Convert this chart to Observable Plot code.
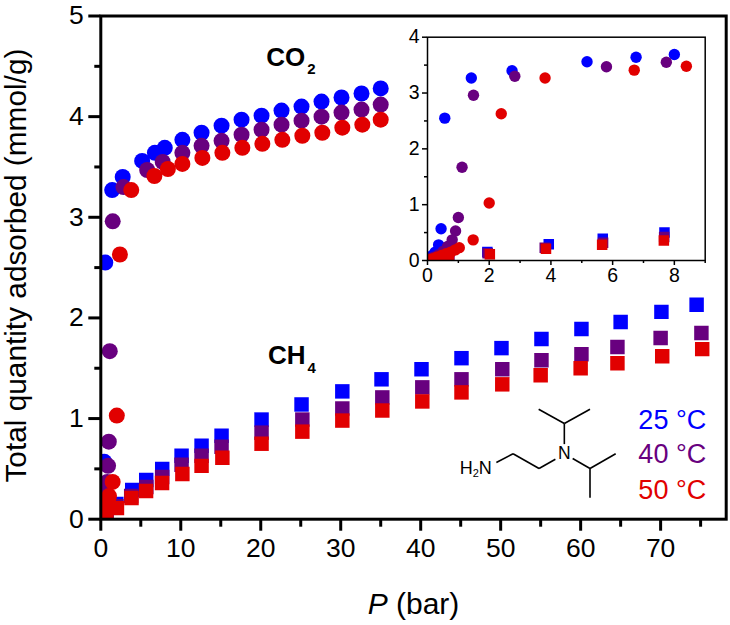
<!DOCTYPE html>
<html>
<head>
<meta charset="utf-8">
<script src="https://cdn.jsdelivr.net/npm/d3@7"></script>
<script src="https://cdn.jsdelivr.net/npm/@observablehq/plot@0.6"></script>
<style>
html,body{margin:0;padding:0;background:#fff}
#chart{position:relative;width:730px;height:625px;overflow:hidden}
#chart svg{position:absolute;background:transparent;max-width:none}
</style>
</head>
<body>
<div id="chart"></div>
<script>
const BLUE = "#0000ff", PURPLE = "#68007f", RED = "#e10000";

// CO2 isotherms
const co2P25 = [0.03,0.08,0.15,0.25,0.36,0.44,0.56,1.42,2.74,5.17,6.76,8.0,10.2,12.6,15.1,17.6,20.1,22.6,25.1,27.6,30.1,32.6,35];
const co2Q25 = [0.02,0.05,0.09,0.15,0.28,0.57,2.55,3.27,3.40,3.56,3.64,3.69,3.77,3.84,3.91,3.97,4.01,4.06,4.10,4.15,4.19,4.23,4.28];
const co2P40 = [0.08,0.2,0.35,0.5,0.65,0.8,0.91,1.0,1.12,1.49,2.83,5.8,7.74,10.2,12.6,15.1,17.6,20.1,22.6,25.1,27.6,30.1,32.6,35];
const co2Q40 = [0.03,0.06,0.1,0.16,0.25,0.37,0.53,0.77,1.67,2.96,3.30,3.47,3.55,3.64,3.71,3.76,3.82,3.87,3.92,3.96,4.0,4.04,4.07,4.12];
const co2P50 = [0.05,0.15,0.3,0.45,0.6,0.75,0.9,1.03,1.48,2.0,2.39,3.81,6.7,8.39,10.2,12.7,15.2,17.7,20.2,22.7,25.2,27.7,30.2,32.7,35];
const co2Q50 = [0.01,0.03,0.06,0.09,0.12,0.15,0.19,0.23,0.37,1.03,2.63,3.27,3.41,3.48,3.53,3.59,3.64,3.69,3.73,3.77,3.81,3.84,3.89,3.92,3.97];

// CH4 isotherms
const ch4P25 = [0.3,0.7,1.94,3.93,5.68,7.68,10.1,12.6,15.1,20.1,25.1,30.2,35.1,40.1,45.1,50.1,55.1,60.1,65,70.1,74.5];
const ch4Q25 = [0.02,0.06,0.15,0.29,0.39,0.5,0.63,0.73,0.83,0.99,1.14,1.27,1.39,1.49,1.60,1.70,1.79,1.89,1.96,2.06,2.13];
const ch4P40 = [0.7,1.95,3.8,5.69,7.67,10.1,12.6,15.1,20.1,25.2,30.2,35.2,40.2,45.1,50.2,55.1,60.1,64.6,70,75.1];
const ch4Q40 = [0.05,0.13,0.23,0.32,0.42,0.54,0.63,0.72,0.86,0.99,1.10,1.21,1.31,1.39,1.49,1.58,1.64,1.71,1.80,1.85];
const ch4P50 = [0.7,2.02,3.84,5.66,7.66,10.2,12.6,15.2,20.1,25.2,30.2,35.2,40.2,45.1,50.2,55,60,64.6,70.2,75.2];
const ch4Q50 = [0.04,0.11,0.21,0.28,0.36,0.45,0.53,0.61,0.75,0.87,0.98,1.08,1.17,1.26,1.34,1.43,1.50,1.55,1.62,1.69];

// Axes
const xMajor = [0,10,20,30,40,50,60,70];
const xMinor = [5,15,25,35,45,55,65,75];
const yMajor = [0,1,2,3,4,5];
const yMinor = [0.5,1.5,2.5,3.5,4.5];
const insetXMajor = [0,2,4,6,8];
const insetXMinor = [1,3,5,7,9];
const insetYMajor = [0,1,2,3,4];
const insetYMinor = [0.5,1.5,2.5,3.5];

// Annotations (x in bar, y in mmol/g)
const legendLabels = ["25 °C","40 °C","50 °C"];
const legendColors = [BLUE,PURPLE,RED];
const legendX = [75.7,75.7,75.7];
const legendY = [0.985,0.64,0.29];
const gasLabels = ["CO2","CH4"];
const gasX = [20.7,20.9];
const gasY = [4.59,1.62];

// Amine structure, drawn as bonds in plot units
const bondX1 = [49.46,51.55,54.8,59.0,61.17,61.17,57.96,57.96,57.96];
const bondY1 = [0.564,0.65,0.504,0.603,0.504,0.504,0.746,0.951,0.951];
const bondX2 = [51.55,54.8,56.84,61.17,64.38,61.17,57.96,54.75,61.17];
const bondY2 = [0.65,0.504,0.596,0.504,0.65,0.213,0.951,1.093,1.093];

const zip = (p,q) => p.map((v,i) => ({p:v,q:q[i]}));
const low = rows => rows.filter(d => d.p <= 9);

function seriesMarks(r, sideFactor, pick) {
  const dot = (p,q,color,symbol) => Plot.dot(pick(zip(p,q)), {
    x:"p", y:"q", fill:color, stroke:"none", symbol,
    r: symbol === "square" ? r*sideFactor : r, clip:true
  });
  return [
    dot(ch4P25,ch4Q25,BLUE,"square"),
    dot(co2P25,co2Q25,BLUE,"circle"),
    dot(ch4P40,ch4Q40,PURPLE,"square"),
    dot(co2P40,co2Q40,PURPLE,"circle"),
    dot(co2P50,co2Q50,RED,"circle"),
    dot(ch4P50,ch4Q50,RED,"square")
  ];
}

function rich(svg, label, parts) {
  d3.select(svg).selectAll("text").filter(function(){ return this.textContent === label; }).each(function(){
    const t = d3.select(this); t.text(null);
    parts.forEach(pt => {
      const s = t.append("tspan").text(pt.t);
      if (pt.size) s.attr("font-size", pt.size);
      if (pt.dy) s.attr("dy", pt.dy);
      if (pt.style) s.attr("font-style", pt.style);
      if (pt.dx) s.attr("dx", pt.dx);
    });
  });
}

const main = Plot.plot({
  width:730, height:625,
  marginLeft:100.3, marginRight:4.3, marginTop:15.5, marginBottom:106.3,
  style:{fontFamily:"'Liberation Sans',Arial,sans-serif", background:"transparent", color:"#000"},
  x:{domain:[0,78.2]}, y:{domain:[0,5]},
  marks:[
    ...seriesMarks(8, 1.02, d => d),
    Plot.link(bondX1.map((v,i)=>i), {x1:i=>bondX1[i], y1:i=>bondY1[i], x2:i=>bondX2[i], y2:i=>bondY2[i], stroke:"#000", strokeWidth:1.6}),
    Plot.text(["H2N"], {x:[48.9], y:[0.507], textAnchor:"end", fontSize:18, fill:"#000"}),
    Plot.text(["N"], {x:[57.96], y:[0.653], fontSize:17.5, fill:"#000"}),
    Plot.text(gasLabels, {x:gasX, y:gasY, textAnchor:"start", fontSize:26, fontWeight:"bold", fill:"#000"}),
    Plot.text(legendLabels, {x:legendX, y:legendY, textAnchor:"end", fontSize:27, fill:legendColors}),
    Plot.text(["Total quantity adsorbed (mmol/g)"], {x:[-10.6], y:[2.52], rotate:-90, fontSize:29.8, fill:"#000"}),
    Plot.text(["P (bar)"], {x:[39.1], y:[-0.85], textAnchor:"middle", fontSize:30, fill:"#000"}),
    Plot.axisX({ticks:xMajor, tickSize:12, tickPadding:7, strokeWidth:3, fontSize:26.5, tickFormat:"d", label:null, stroke:"#000", fill:"#000"}),
    Plot.axisX({ticks:xMinor, tickSize:8, text:null, label:null, strokeWidth:3, stroke:"#000"}),
    Plot.axisY({ticks:yMajor, tickSize:12, tickPadding:5, strokeWidth:3, fontSize:26.5, tickFormat:"d", label:null, stroke:"#000", fill:"#000"}),
    Plot.axisY({ticks:yMinor, tickSize:6, text:null, label:null, strokeWidth:3, stroke:"#000"}),
    Plot.frame({stroke:"#000", strokeWidth:3})
  ]
});
rich(main,"CO2",[{t:"CO"},{t:"2",size:15,dy:"0.55em",dx:"2"}]);
rich(main,"CH4",[{t:"CH"},{t:"4",size:15,dy:"0.55em",dx:"2"}]);
rich(main,"H2N",[{t:"H"},{t:"2",size:11,dy:"0.3em"},{t:"N",dy:"-0.2em"}]);
rich(main,"P (bar)",[{t:"P",style:"italic"},{t:" (bar)"}]);
main.style.left="0"; main.style.top="0";

const inset = Plot.plot({
  width:340, height:290,
  marginLeft:40, marginRight:22.3, marginTop:16.7, marginBottom:50,
  style:{fontFamily:"'Liberation Sans',Arial,sans-serif", background:"transparent", color:"#000"},
  x:{domain:[0,9]}, y:{domain:[0,4]},
  marks:[
    ...seriesMarks(5.7, 1.04, low),
    Plot.axisX({ticks:insetXMajor, tickSize:5, tickPadding:3, strokeWidth:1.5, fontSize:19.5, tickFormat:"d", label:null, stroke:"#000", fill:"#000"}),
    Plot.axisX({ticks:insetXMinor, tickSize:3, text:null, label:null, strokeWidth:1.5, stroke:"#000"}),
    Plot.axisY({ticks:insetYMajor, tickSize:5, tickPadding:3, strokeWidth:1.5, fontSize:19.5, tickFormat:"d", label:null, stroke:"#000", fill:"#000"}),
    Plot.axisY({ticks:insetYMinor, tickSize:3, text:null, label:null, strokeWidth:1.5, stroke:"#000"}),
    Plot.frame({stroke:"#000", strokeWidth:1.5})
  ]
});
inset.style.left="387.3px"; inset.style.top="20px";

const root = document.getElementById("chart");
root.append(main, inset);
</script>
</body>
</html>
